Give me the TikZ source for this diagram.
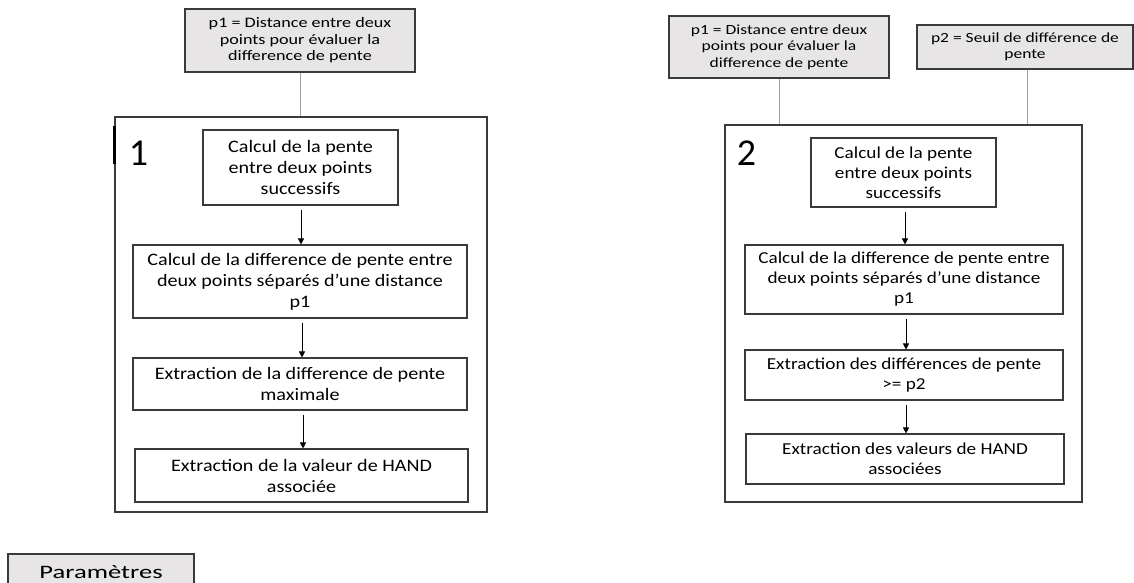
\documentclass[tikz,border=0pt]{standalone}
\usepackage{fontspec}
\setmainfont{Carlito}
\newfontfamily\stepfont[FakeStretch=1.15]{Carlito}
\newfontfamily\paramfont[FakeStretch=1.25]{Carlito}
\newfontfamily\legfont[FakeStretch=1.4]{Carlito}
\usetikzlibrary{arrows.meta}
\definecolor{paramfill}{HTML}{E7E5E6}
\definecolor{edge}{HTML}{3A3A3A}
\definecolor{linkgray}{HTML}{A0A0A0}
\tikzset{
  stepbox/.style={draw=edge, line width=1.1pt, fill=white, align=center, inner sep=0pt,
    font=\stepfont\fontsize{17.5}{21}\selectfont},
  stepboxr/.style={stepbox, font=\stepfont\fontsize{16.7}{20}\selectfont},
  parambox/.style={draw=edge, line width=1.1pt, fill=paramfill, align=center, inner sep=0pt,
    font=\paramfont\fontsize{14.5}{16.5}\selectfont},
  paramboxr/.style={parambox, font=\paramfont\fontsize{14}{16.5}\selectfont},
  legbox/.style={draw=edge, line width=1.1pt, fill=paramfill, align=center, inner sep=0pt,
    font=\legfont\fontsize{19}{20}\selectfont},
  bigbox/.style={draw=edge, line width=1.1pt, inner sep=0pt},
  numlabel/.style={font=\fontsize{38}{38}\selectfont, inner sep=0pt},
  link/.style={draw=linkgray, line width=0.8pt},
  flow/.style={draw=black, line width=0.7pt, -{Triangle[length=6pt,width=6pt]}, shorten <=4pt}
}
\begin{document}
\begin{tikzpicture}[x=1pt,y=-1pt]
\useasboundingbox[fill=white] (0,0) rectangle (1134,583);

% ---------- Panel 1 ----------
\node[parambox, minimum width=230pt, minimum height=63pt] (p1a) at (300,40.5)
  {p1 = Distance entre deux\\points pour évaluer la\\difference de pente};
\node[bigbox, minimum width=372pt, minimum height=395pt] (big1) at (301,314.5) {};
\draw[link] (p1a.south) -- (p1a.south |- big1.north);
\draw[black, line width=2.6pt] (big1.north west) ++(0,10) coordinate (bar1a) -- ++(0,38) coordinate (bar1b);
\node[numlabel] (n1) at (138.5,153.5) {1};

\node[stepbox, minimum width=195pt, minimum height=75pt] (a1) at (300.5,167.5)
  {Calcul de la pente\\entre deux points\\successifs};
\node[stepbox, minimum width=334pt, minimum height=73pt] (a2) at (300,281.5)
  {Calcul de la difference de pente entre\\deux points séparés d’une distance\\p1};
\node[stepbox, minimum width=334pt, minimum height=52pt] (a3) at (300,384)
  {Extraction de la difference de pente\\maximale};
\node[stepbox, minimum width=333pt, minimum height=53pt] (a4) at (301.5,475.5)
  {Extraction de la valeur de HAND\\associée};
\draw[flow] (a1.south -| 301,0) -- (a2.north -| 301,0);
\draw[flow] (a2.south -| 302,0) -- (a3.north -| 302,0);
\draw[flow] (a3.south -| 303,0) -- (a4.north -| 303,0);

% ---------- Panel 2 ----------
\node[paramboxr, minimum width=220pt, minimum height=62pt] (p1b) at (779,47)
  {p1 = Distance entre deux\\points pour évaluer la\\difference de pente};
\node[paramboxr, minimum width=216pt, minimum height=44pt] (p2b) at (1025,47)
  {p2 = Seuil de différence de\\pente};
\node[bigbox, minimum width=357pt, minimum height=377pt] (big2) at (903.5,313.5) {};
\draw[link] (p1b.south) -- (p1b.south |- big2.north);
\draw[link] (p2b.south -| 1027,0) -- (big2.north -| 1027,0);
\node[numlabel] (n2) at (746.5,153.5) {2};

\node[stepboxr, minimum width=185pt, minimum height=69pt] (b1) at (903.5,172.5)
  {Calcul de la pente\\entre deux points\\successifs};
\node[stepboxr, minimum width=318pt, minimum height=69pt] (b2) at (904,279.5)
  {Calcul de la difference de pente entre\\deux points séparés d’une distance\\p1};
\node[stepboxr, minimum width=318pt, minimum height=50pt] (b3) at (904,375)
  {Extraction des différences de pente\\>= p2};
\node[stepboxr, minimum width=318pt, minimum height=50pt] (b4) at (905,459)
  {Extraction des valeurs de HAND\\associées};
\draw[flow] (b1.south -| 905,0) -- (b2.north -| 905,0);
\draw[flow] (b2.south -| 906,0) -- (b3.north -| 906,0);
\draw[flow] (b3.south -| 906,0) -- (b4.north -| 906,0);

% ---------- Legend ----------
\node[legbox, minimum width=186pt, minimum height=36pt] (leg) at (101,572)
  {Paramètres};
\end{tikzpicture}
\end{document}
